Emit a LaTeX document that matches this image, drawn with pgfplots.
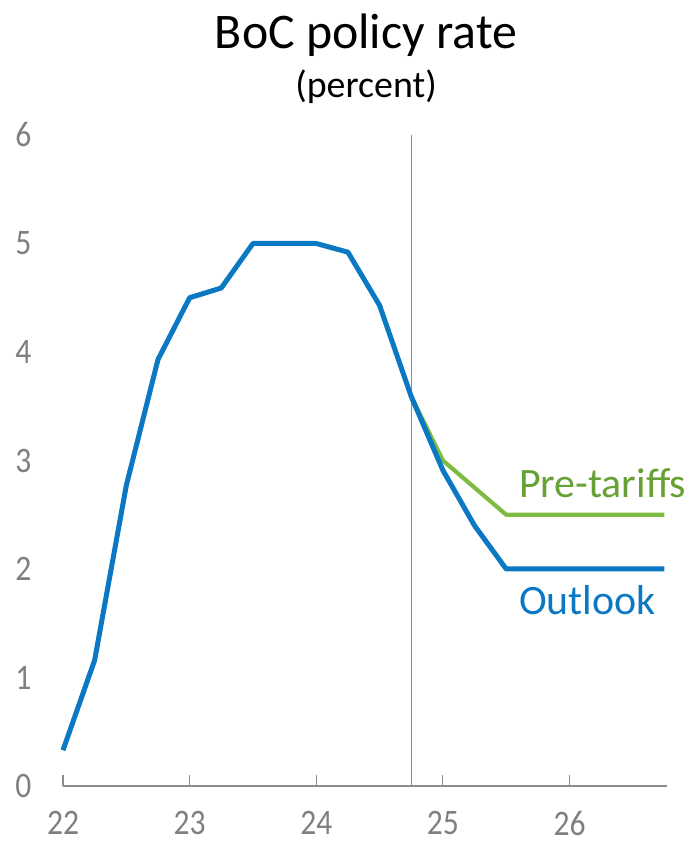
\documentclass[border=0pt]{standalone}
\usepackage{pgfplots}
\pgfplotsset{compat=1.18}
\usepackage{fontspec}
\setmainfont{Carlito}
\newfontfamily\tickfont{Carlito}[FakeStretch=0.88]
\definecolor{bmoblue}{HTML}{0A78C2}
\definecolor{bmogreen}{HTML}{7DBB42}
\definecolor{bmogreentxt}{HTML}{65A133}
\definecolor{axgray}{HTML}{8C8C8C}
\definecolor{txgray}{HTML}{7F7F7F}
\begin{document}
\begin{tikzpicture}
\begin{axis}[
  name=ax,
  scale only axis,
  width=604bp, height=651bp,
  xmin=22, xmax=26.77, ymin=0, ymax=6,
  axis lines*=left,
  x axis line style={draw=axgray, line width=1.5bp},
  y axis line style={draw=none},
  xtick={22,23,24,25,26},
  ytick={0,1,2,3,4,5,6},
  tick align=inside,
  major tick length=11bp,
  xtick style={draw=axgray, line width=1.2bp},
  ytick style={draw=none},
  /pgf/number format/assume math mode=true,
  ticklabel style={font=\tickfont\fontsize{36}{40}\selectfont, text=txgray},
  xticklabel style={yshift=-22bp},
  yticklabel style={xshift=-28bp},
  clip=false,
]
\addplot[axgray, line width=1.3bp] coordinates {(24.75,0) (24.75,6)};
\addplot[bmogreen, line width=4.2bp, line join=round] coordinates {
(24.75,3.59) (25,3.0) (25.25,2.75) (25.5,2.5) (25.75,2.5) (26,2.5) (26.25,2.5) (26.5,2.5) (26.75,2.5)};
\addplot[bmoblue, line width=5bp, line join=round] coordinates {
(22,0.33) (22.25,1.16) (22.5,2.77) (22.75,3.93) (23,4.5) (23.25,4.59) (23.5,5) (23.75,5) (24,5) (24.25,4.92) (24.5,4.43) (24.75,3.59) (25,2.91) (25.25,2.4) (25.5,2) (25.75,2) (26,2) (26.25,2) (26.5,2) (26.75,2)};
\node[anchor=west, text=bmogreentxt, font=\fontsize{42}{48}\selectfont, inner sep=0pt] at (axis cs:25.6,2.79) {Pre-tariffs};
\node[anchor=west, text=bmoblue, font=\fontsize{42}{48}\selectfont, inner sep=0pt] at (axis cs:25.6,1.71) {Outlook};
\end{axis}
\node[anchor=base, font=\fontsize{50}{56}\selectfont] at ([xshift=303bp,yshift=737bp]ax.south west) {BoC policy rate};
\node[anchor=base, font=\fontsize{38}{44}\selectfont] at ([xshift=303bp,yshift=688bp]ax.south west) {(percent)};
\pgfresetboundingbox
\path[use as bounding box] ([xshift=-63bp,yshift=-62bp]ax.south west) rectangle ([xshift=634bp,yshift=786bp]ax.south west);
\end{tikzpicture}
\end{document}
